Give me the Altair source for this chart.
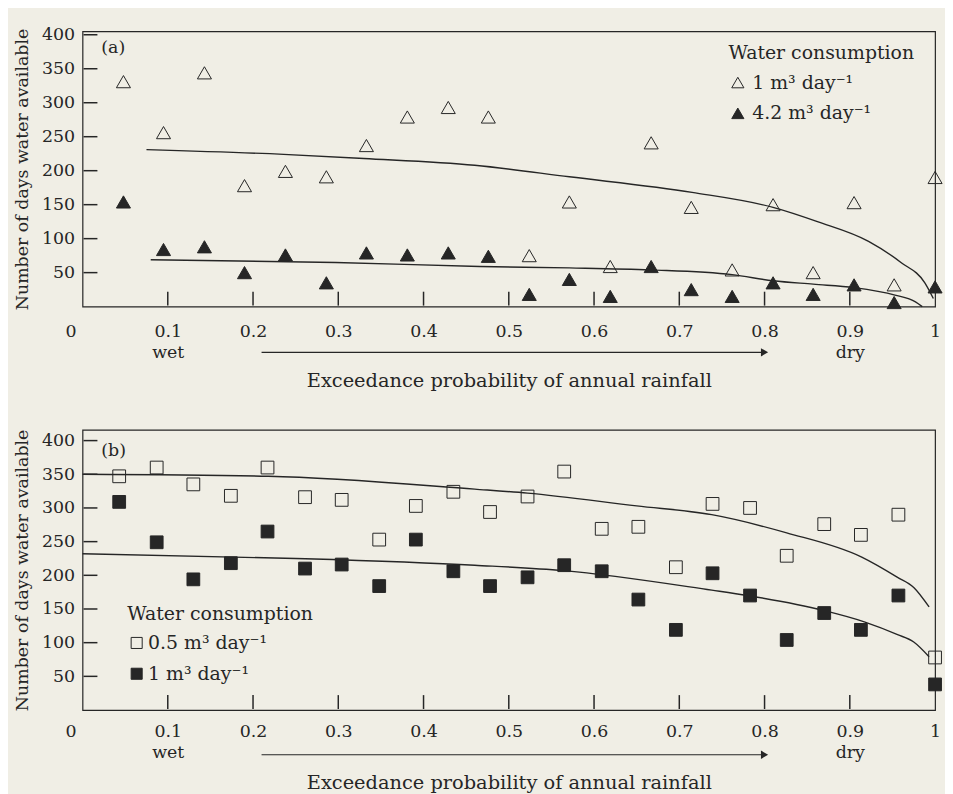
import altair as alt
import pandas as pd

FONT = "DejaVu Serif"
INK = "#262626"
PAPER = "#f0eee5"
FS = 17.5

# ---------------- data: panel (a) ----------------
a_x = [0.048, 0.095, 0.143, 0.190, 0.238, 0.286, 0.333, 0.381, 0.429, 0.476, 0.524,
       0.571, 0.619, 0.667, 0.714, 0.762, 0.810, 0.857, 0.905, 0.952, 1.0]
a_low = [331, 256, 344, 178, 199, 191, 237, 279, 293, 279, 75,
         154, 59, 241, 146, 54, 150, 50, 153, 32, 190]       # 1 m3/day (open)
a_high = [154, 84, 88, 50, 76, 35, 79, 76, 79, 74, 18,
          40, 15, 59, 25, 15, 35, 18, 32, 6, 29]             # 4.2 m3/day (filled)
a_names = ["1 m³ day⁻¹", "4.2 m³ day⁻¹"]

a_curve1_x = [0.075, 0.236, 0.33, 0.46, 0.571, 0.715, 0.81, 0.862, 0.922, 0.96, 0.988, 0.998]
a_curve1_y = [231, 224, 218, 208, 191, 168, 146, 125, 96, 65, 35, 12]
a_curve2_x = [0.08, 0.297, 0.466, 0.571, 0.666, 0.762, 0.81, 0.857, 0.905, 0.953, 0.977, 0.985]
a_curve2_y = [69, 65, 59, 57, 54, 47, 38, 33, 28, 17, 7, 0]

# ---------------- data: panel (b) ----------------
b_x = [0.043, 0.087, 0.130, 0.174, 0.217, 0.261, 0.304, 0.348, 0.391, 0.435, 0.478, 0.522,
       0.565, 0.609, 0.652, 0.696, 0.739, 0.783, 0.826, 0.870, 0.913, 0.957, 1.0]
b_low = [347, 360, 335, 318, 360, 316, 312, 253, 303, 324, 294, 317,
         354, 269, 272, 212, 306, 300, 229, 276, 260, 290, 78]   # 0.5 m3/day (open)
b_high = [309, 249, 194, 218, 265, 210, 216, 184, 253, 206, 184, 197,
          215, 206, 164, 119, 203, 170, 104, 144, 119, 170, 38]  # 1 m3/day (filled)
b_names = ["0.5 m³ day⁻¹", "1 m³ day⁻¹"]

b_curve1_x = [0.0, 0.218, 0.46, 0.522, 0.65, 0.738, 0.826, 0.914, 0.956, 0.975, 0.993]
b_curve1_y = [350, 347, 328, 322, 303, 290, 263, 227, 197, 182, 153]
b_curve2_x = [0.0, 0.25, 0.46, 0.564, 0.738, 0.78, 0.869, 0.917, 0.956, 0.975, 0.993]
b_curve2_y = [232, 225, 215, 207, 178, 170, 148, 131, 112, 101, 79]

x_ticks = [0, 0.1, 0.2, 0.3, 0.4, 0.5, 0.6, 0.7, 0.8, 0.9, 1]
x_inner_ticks = [0.1, 0.2, 0.3, 0.4, 0.5, 0.6, 0.7, 0.8, 0.9]
y_ticks = [50, 100, 150, 200, 250, 300, 350, 400]
arrow_span = [0.21, 0.80]

W = 858
TICK = 14
XTITLE = "Exceedance probability of annual rainfall"
YTITLE = "Number of days water available"


def panel(xs, s_open, s_fill, names, shape, size, c1x, c1y, c2x, c2y,
          ytop, H, tag, tag_y, leg_x, leg_y, leg_off, lab_pad, t_pad, arrow_dy):
    xscale = alt.Scale(domain=[0, 1], nice=False, zero=False)
    yscale = alt.Scale(domain=[0, ytop], nice=False, zero=True)
    xaxis = alt.Axis(values=x_ticks, title=XTITLE, labelPadding=lab_pad, format=".1~f",
                     labelExpr="datum.value == 0.1 ? ['0.1', 'wet'] : (datum.value == 0.9 ? ['0.9', 'dry'] : datum.label)",
                     labelOffset=alt.condition("datum.value == 0", alt.value(-12), alt.value(0)),
                     labelLineHeight=21, titlePadding=t_pad, labelFlush=False,
                     titleFontSize=19.5)
    yaxis = alt.Axis(values=y_ticks, title=YTITLE, labelPadding=8, titlePadding=10,
                     titleFontSize=17.5)

    def X(f):
        return alt.X(f, type="quantitative", scale=xscale, axis=xaxis)

    def Y(f):
        return alt.Y(f, type="quantitative", scale=yscale, axis=yaxis)

    pts = pd.DataFrame({
        "x": xs + xs,
        "y": s_open + s_fill,
        "series": [names[0]] * len(xs) + [names[1]] * len(xs),
    })
    points = alt.Chart(pts).mark_point(
        filled=True, shape=shape, size=size, stroke=INK, strokeWidth=1.0, opacity=1
    ).encode(
        x=X("x"), y=Y("y"),
        fill=alt.Fill("series:N",
                      scale=alt.Scale(domain=names, range=["transparent", INK]),
                      legend=alt.Legend(title="Water consumption", orient="none",
                                        legendX=leg_x, legendY=leg_y,
                                        symbolType=shape, symbolSize=size * 0.75,
                                        symbolStrokeColor=INK, symbolStrokeWidth=1.0,
                                        labelOffset=leg_off, rowPadding=11,
                                        titleLimit=500, labelLimit=500,
                                        titlePadding=10, titleFontWeight="normal")),
    )

    cur = pd.DataFrame({
        "x": c1x + c2x,
        "y": c1y + c2y,
        "curve": ["upper"] * len(c1x) + ["lower"] * len(c2x),
    })
    curves = alt.Chart(cur).mark_line(
        interpolate="monotone", color=INK, strokeWidth=1.4
    ).encode(x=X("x"), y=Y("y"), detail="curve:N")

    # inward tick marks (axis ticks can only point outward)
    yt = alt.Chart(pd.DataFrame({"yv": y_ticks})).mark_rule(
        color=INK, strokeWidth=1.5
    ).encode(y=Y("yv"), x=alt.value(1), x2=alt.value(1 + TICK))
    xt = alt.Chart(pd.DataFrame({"xv": x_inner_ticks})).mark_rule(
        color=INK, strokeWidth=1.5
    ).encode(x=X("xv"), y=alt.value(H - 1), y2=alt.value(H - 1 - TICK))

    arr = pd.DataFrame({"x": [arrow_span[0]], "x2": [arrow_span[1]]})
    arrow_line = alt.Chart(arr).mark_rule(color=INK, strokeWidth=1.2).encode(
        x=X("x"), x2="x2", y=alt.value(H + arrow_dy))
    arrow_head = alt.Chart(pd.DataFrame({"x": [arrow_span[1]]})).mark_point(
        shape="triangle-right", filled=True, size=70, color=INK, opacity=1
    ).encode(x=X("x"), y=alt.value(H + arrow_dy))

    label = alt.Chart(pd.DataFrame({"x": [0.022], "lbl": [tag]})).mark_text(
        align="left", baseline="middle", font=FONT, fontSize=FS, color=INK
    ).encode(x=X("x"), y=alt.value(tag_y), text="lbl:N")

    return alt.layer(yt, xt, curves, points, arrow_line, arrow_head, label).properties(
        width=W, height=H)


pa = panel(a_x, a_low, a_high, a_names, "triangle-up", 200,
           a_curve1_x, a_curve1_y, a_curve2_x, a_curve2_y,
           405, 277, "(a)", 17, 650, 13, 5, 16, 11, 46)
pb = panel(b_x, b_low, b_high, b_names, "square", 165,
           b_curve1_x, b_curve1_y, b_curve2_x, b_curve2_y,
           416, 282, "(b)", 21, 45, 176, 2, 13, 12, 45)

chart = alt.vconcat(pa, pb, spacing=37).resolve_scale(
    x="independent", y="independent", fill="independent"
).resolve_legend(fill="independent").properties(
    background=PAPER,
    padding={"left": 4, "top": 14, "right": 0, "bottom": 0},
).configure_axis(
    labelFont=FONT, titleFont=FONT, labelFontSize=FS, titleFontSize=FS,
    labelColor=INK, titleColor=INK, titleFontWeight="normal",
    grid=False, ticks=False, domain=False,
).configure_legend(
    labelFont=FONT, titleFont=FONT, labelFontSize=19, titleFontSize=19,
    labelColor=INK, titleColor=INK,
).configure_view(
    stroke=INK, strokeWidth=1.2
)

chart.save("out.html", embed_options={"renderer": "svg", "actions": False})
